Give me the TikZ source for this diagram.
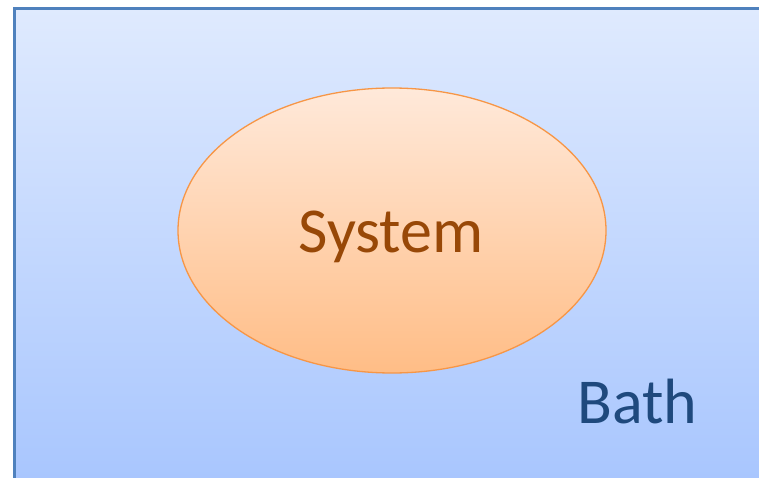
\documentclass[tikz,border=0pt]{standalone}
\usepackage{fontspec}
\setmainfont{Carlito}
\usetikzlibrary{shapes.geometric}
\definecolor{bathtop}{HTML}{DFEAFE}
\definecolor{bathbot}{HTML}{A7C5FE}
\definecolor{bathline}{HTML}{4F81BD}
\definecolor{systop}{HTML}{FFE9DA}
\definecolor{sysbot}{HTML}{FFBD86}
\definecolor{sysline}{HTML}{F79646}
\definecolor{systext}{HTML}{984807}
\definecolor{bathtext}{HTML}{1F497D}
\tikzset{
  bathbox/.style={draw=bathline, line width=3pt, top color=bathtop, bottom color=bathbot},
  sysell/.style={ellipse, draw=sysline, line width=1.3pt, top color=systop, bottom color=sysbot, minimum width=428pt, minimum height=285pt, inner sep=0pt},
  bigtext/.style={font=\fontsize{64}{64}\selectfont, anchor=base, inner sep=0pt}
}
\begin{document}
\begin{tikzpicture}[x=1pt,y=-1pt]
\useasboundingbox (0,0) rectangle (759,478);
\begin{scope}
\clip (0,0) rectangle (759,478);
\node[bathbox, minimum width=760pt, minimum height=485pt, anchor=north west, inner sep=0pt] (bath) at (13,7) {};
\end{scope}
\node[sysell] (sys) at (392,230.5) {};
\node[bigtext, text=systext] (systxt) at (391,252) {System};
\node[bigtext, text=bathtext] (bathtxt) at (637.5,423) {Bath};
\end{tikzpicture}
\end{document}
